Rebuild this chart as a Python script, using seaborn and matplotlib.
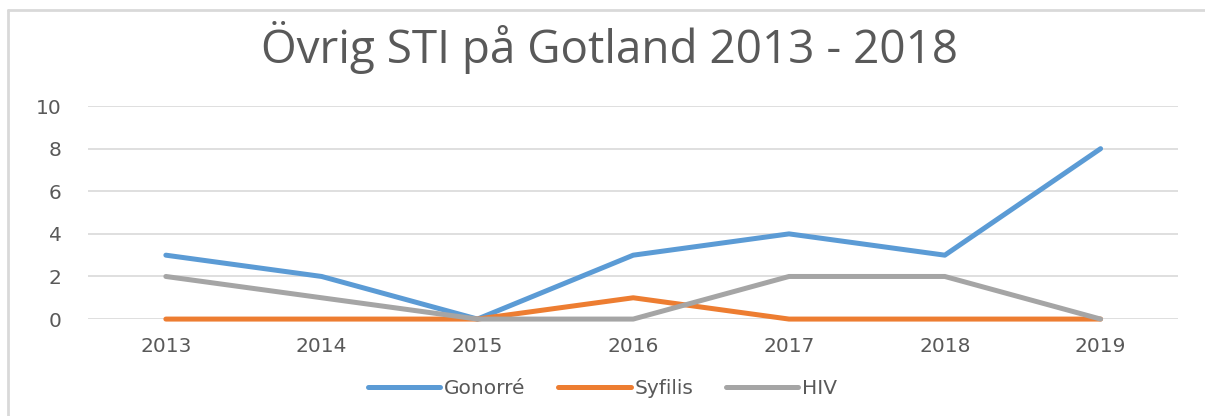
import matplotlib
matplotlib.use("Agg")
import matplotlib.pyplot as plt
import matplotlib.lines as mlines
import seaborn as sns
import pandas as pd

# Data
years = ["2013", "2014", "2015", "2016", "2017", "2018", "2019"]
gonorre = [3, 2, 0, 3, 4, 3, 8]
syfilis = [0, 0, 0, 1, 0, 0, 0]
hiv = [2, 1, 0, 0, 2, 2, 0]
series = ["Gonorré", "Syfilis", "HIV"]
colors = ["#5B9BD5", "#ED7D31", "#A5A5A5"]

df = pd.DataFrame({"År": years * 3,
                   "Antal": gonorre + syfilis + hiv,
                   "Typ": [s for s in series for _ in years]})

sns.set_theme(style="white")
plt.rcParams["font.family"] = ["DejaVu Sans"]

fig = plt.figure(figsize=(12.05, 4.16), dpi=100)
ax = fig.add_axes([0.073, 0.233, 0.905, 0.512])

sns.lineplot(data=df, x="År", y="Antal", hue="Typ", palette=colors,
             linewidth=3.6, sort=False, ax=ax, legend=False,
             solid_capstyle="round", clip_on=False)

ax.set_ylim(0, 10)
ax.set_xlim(-0.5, 6.5)
ax.set_yticks(range(0, 11, 2))
ax.yaxis.grid(True, color="#D9D9D9", linewidth=1.2)
ax.set_axisbelow(True)
for sp in ax.spines.values():
    sp.set_visible(False)
ax.set_xlabel("")
ax.set_ylabel("")
ax.tick_params(axis="both", length=0, labelsize=14.5, colors="#595959")
ax.tick_params(axis="y", pad=19)
ax.tick_params(axis="x", pad=13)

fig.text(0.506, 0.887, "Övrig STI på Gotland 2013 - 2018", ha="center",
         va="center", fontsize=33, color="#595959",
         family=["Open Sans", "DejaVu Sans"])

handles = [mlines.Line2D([], [], color=c, linewidth=3.6, solid_capstyle="round")
           for c in colors]
fig.legend(handles, series, loc="center", bbox_to_anchor=(0.5, 0.065), ncol=3,
           frameon=False, fontsize=14.5, labelcolor="#595959", handlelength=3.6,
           handletextpad=0.2, columnspacing=1.6)

# outer chart border (top and left only are visible)
fig.add_artist(mlines.Line2D([0.007, 1.0], [0.975, 0.975], color="#D9D9D9",
                             linewidth=2, transform=fig.transFigure))
fig.add_artist(mlines.Line2D([0.007, 0.007], [0.0, 0.975], color="#D9D9D9",
                             linewidth=2, transform=fig.transFigure))

fig.savefig("out.png", dpi=100)
